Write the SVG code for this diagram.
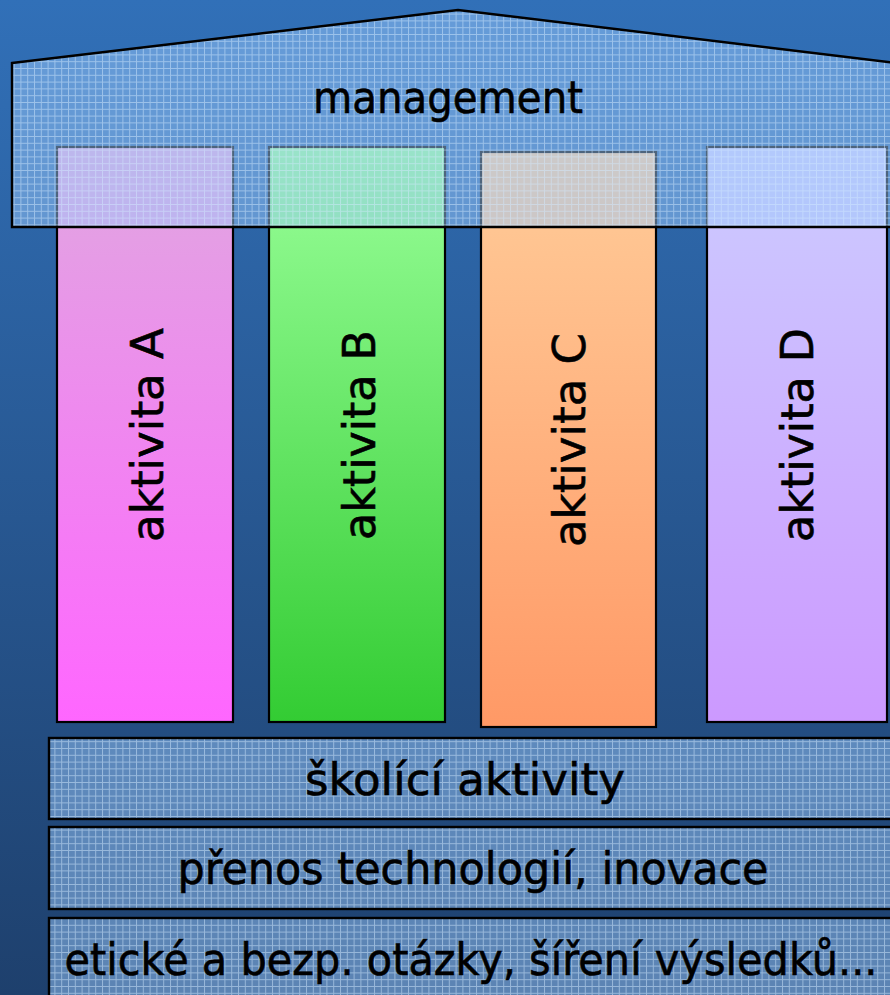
<svg xmlns="http://www.w3.org/2000/svg" width="890" height="995" viewBox="0 0 890 995">
<defs>
<style>
.t{font-family:"Comic Sans MS","DejaVu Sans","Noto Sans",sans-serif;font-size:44px;fill:#000;stroke:#000;stroke-width:0.6;}
.pil{stroke:#000;stroke-width:2.2;}
.grid{fill:url(#grid);stroke:#000;stroke-width:2.4;}
</style>
<linearGradient id="bg" x1="0" y1="0" x2="0" y2="1">
<stop offset="0" stop-color="#3170b8"/>
<stop offset="1" stop-color="#1e406d"/>
</linearGradient>
<linearGradient id="gA" x1="0" y1="0" x2="0" y2="1">
<stop offset="0" stop-color="#e0a8e0"/>
<stop offset="1" stop-color="#ff66ff"/>
</linearGradient>
<linearGradient id="gB" x1="0" y1="0" x2="0" y2="1">
<stop offset="0" stop-color="#99ff99"/>
<stop offset="1" stop-color="#33cc33"/>
</linearGradient>
<linearGradient id="gC" x1="0" y1="0" x2="0" y2="1">
<stop offset="0" stop-color="#ffcc99"/>
<stop offset="1" stop-color="#ff9966"/>
</linearGradient>
<linearGradient id="gD" x1="0" y1="0" x2="0" y2="1">
<stop offset="0" stop-color="#ccccff"/>
<stop offset="1" stop-color="#cc99ff"/>
</linearGradient>
<pattern id="grid" patternUnits="userSpaceOnUse" width="6.8" height="6.8">
<rect width="6.8" height="6.8" fill="#99c8fa" fill-opacity="0.5"/>
<path d="M0 0.5H6.8M0.5 0V6.8" stroke="#d4eaff" stroke-opacity="0.5" stroke-width="1" fill="none"/>
</pattern>
</defs>
<rect width="890" height="995" fill="url(#bg)"/>
<g id="pillarA"><rect class="pil" x="57" y="147" width="176" height="575" fill="url(#gA)"/><text class="t" transform="translate(163,435) rotate(-90)" text-anchor="middle" textLength="214" lengthAdjust="spacingAndGlyphs">aktivita A</text></g>
<g id="pillarB"><rect class="pil" x="269" y="147" width="176" height="575" fill="url(#gB)"/><text class="t" transform="translate(375,435) rotate(-90)" text-anchor="middle" textLength="210" lengthAdjust="spacingAndGlyphs">aktivita B</text></g>
<g id="pillarC"><rect class="pil" x="481" y="152" width="175" height="575" fill="url(#gC)"/><text class="t" transform="translate(585,440) rotate(-90)" text-anchor="middle" textLength="214" lengthAdjust="spacingAndGlyphs">aktivita C</text></g>
<g id="pillarD"><rect class="pil" x="707" y="147" width="180" height="575" fill="url(#gD)"/><text class="t" transform="translate(813,435) rotate(-90)" text-anchor="middle" textLength="214" lengthAdjust="spacingAndGlyphs">aktivita D</text></g>
<g id="roof"><polygon class="grid" points="12,63 458,10 905,64 905,227 12,227"/><text class="t" x="448" y="113" text-anchor="middle" textLength="270" lengthAdjust="spacingAndGlyphs">management</text></g>
<g id="skoleni"><rect class="grid" x="49" y="738" width="860" height="81"/><text class="t" x="465" y="795" text-anchor="middle" textLength="320" lengthAdjust="spacingAndGlyphs">školící aktivity</text></g>
<g id="prenos"><rect class="grid" x="49" y="827" width="860" height="82"/><text class="t" x="473" y="884" text-anchor="middle" textLength="591" lengthAdjust="spacingAndGlyphs">přenos technologií, inovace</text></g>
<g id="eticke"><rect class="grid" x="49" y="918" width="860" height="79"/><text class="t" x="471" y="975" text-anchor="middle" textLength="813" lengthAdjust="spacingAndGlyphs">etické a bezp. otázky, šíření výsledků...</text></g>
<g id="connectors"/>
</svg>
